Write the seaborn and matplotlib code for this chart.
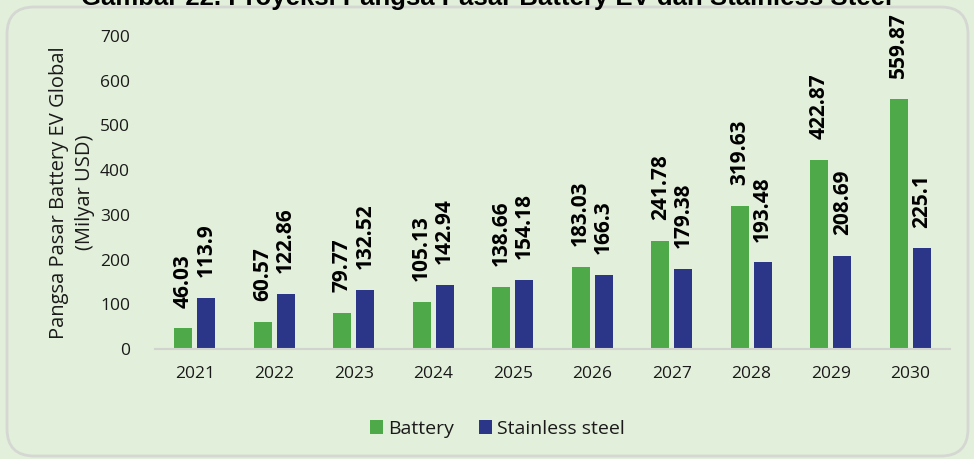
import numpy as np
import pandas as pd
import matplotlib.pyplot as plt
import seaborn as sns
from matplotlib.patches import FancyBboxPatch

years = ['2021', '2022', '2023', '2024', '2025', '2026', '2027', '2028', '2029', '2030']
battery = [46.03, 60.57, 79.77, 105.13, 138.66, 183.03, 241.78, 319.63, 422.87, 559.87]
stainless = [113.9, 122.86, 132.52, 142.94, 154.18, 166.3, 179.38, 193.48, 208.69, 225.1]
battery_lbl = ['46.03', '60.57', '79.77', '105.13', '138.66', '183.03', '241.78', '319.63', '422.87', '559.87']
stainless_lbl = ['113.9', '122.86', '132.52', '142.94', '154.18', '166.3', '179.38', '193.48', '208.69', '225.1']

df = pd.DataFrame({
    'Tahun': years * 2,
    'Nilai': battery + stainless,
    'Seri': ['Battery'] * 10 + ['Stainless steel'] * 10,
})

sns.set_style('white')
plt.rcParams['font.family'] = ['Open Sans', 'DejaVu Sans']

bg = '#E2EFDA'
colors = {'Battery': '#4EAA48', 'Stainless steel': '#2B3688'}

fig = plt.figure(figsize=(9.74, 4.59), dpi=100)
fig.patch.set_facecolor(bg)
# rounded border around the chart
panel = FancyBboxPatch((7 / 974, 3 / 459), 961 / 974, 449 / 459, boxstyle='round,pad=0,rounding_size=0.028',
                       transform=fig.transFigure, facecolor='none', edgecolor='#D5D8D2', linewidth=2,
                       mutation_aspect=974 / 459, zorder=-5)
fig.patches.append(panel)

# title is cut off at the top in the source image
fig.text(0.5, 1 - 5 / 459, 'Gambar 22. Proyeksi Pangsa Pasar Battery EV dan Stainless Steel',
         ha='center', va='baseline', fontsize=18.5, fontweight='bold', color='black',
         family=['Liberation Sans', 'DejaVu Sans'])

ax = fig.add_axes([155 / 974, 1 - 349 / 459, 795 / 974, 313 / 459])
ax.set_facecolor('none')
sns.barplot(data=df, x='Tahun', y='Nilai', hue='Seri', palette=colors, width=0.58, gap=0.2,
            saturation=1, linewidth=0, ax=ax, legend=True)

ax.set_ylim(0, 700)
ax.set_yticks(range(0, 701, 100))
ax.set_xlabel('')
ax.set_ylabel('Pangsa Pasar Battery EV Global\n(Milyar USD)', fontsize=14.5, linespacing=1.45, color='#1a1a1a')
ax.yaxis.set_label_coords(-0.075, 0.5)
ax.tick_params(axis='both', length=0, labelsize=12.5, colors='#1a1a1a')
ax.tick_params(axis='y', pad=18)
ax.tick_params(axis='x', pad=12)
for s in ['top', 'right', 'left']:
    ax.spines[s].set_visible(False)
ax.spines['bottom'].set_color('#D0D3CE')
ax.spines['bottom'].set_linewidth(1.5)

for cont, lbls in zip(ax.containers, [battery_lbl, stainless_lbl]):
    ax.bar_label(cont, labels=lbls, rotation=90, padding=15, fontsize=15, fontweight='bold',
                 color='black', clip_on=False)

leg = ax.legend(loc='upper center', bbox_to_anchor=(0.431, -0.17), ncol=2, frameon=False,
                fontsize=14, handlelength=0.67, handleheight=0.67, handletextpad=0.26, columnspacing=1.3)
for t in leg.get_texts():
    t.set_color('#1a1a1a')

fig.savefig('out.png', dpi=100, facecolor=fig.get_facecolor())
